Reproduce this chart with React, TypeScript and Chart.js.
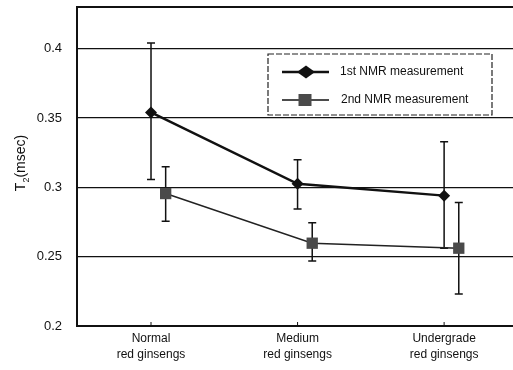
import React, { useEffect, useRef } from "react";
import { Chart, registerables } from "chart.js";

Chart.register(...registerables);

const categories: string[][] = [
  ["Normal", "red ginsengs"],
  ["Medium", "red ginsengs"],
  ["Undergrade", "red ginsengs"],
];
const seriesNames = ["1st NMR measurement", "2nd NMR measurement"];
const s1Mean = [0.354, 0.3025, 0.294];
const s1Low = [0.3056, 0.2844, 0.2561];
const s1High = [0.404, 0.3198, 0.3328];
const s2Mean = [0.2955, 0.2597, 0.2561];
const s2Low = [0.2756, 0.2469, 0.2231];
const s2High = [0.3148, 0.2745, 0.289];
const yTicks = [0.2, 0.25, 0.3, 0.35, 0.4];
const SERIES2_SHIFT = 0.1;

const FONT = "'Liberation Sans', Arial, sans-serif";

const zeroPad = (s: any) => {
  s.paddingLeft = 0;
  s.paddingRight = 0;
  s.paddingTop = 0;
  s.paddingBottom = 0;
};

const errorBars = {
  id: "errorBars",
  beforeDatasetsDraw(chart: any) {
    const ctx = chart.ctx;
    const xs = chart.scales.x;
    const ys = chart.scales.y;
    const sets = [
      { lo: s1Low, hi: s1High, shift: 0 },
      { lo: s2Low, hi: s2High, shift: SERIES2_SHIFT },
    ];
    ctx.save();
    ctx.strokeStyle = "#111";
    ctx.lineWidth = 1.5;
    sets.forEach((s) => {
      s.lo.forEach((lo, i) => {
        const x = xs.getPixelForValue(i + s.shift);
        const y1 = ys.getPixelForValue(lo);
        const y2 = ys.getPixelForValue(s.hi[i]);
        ctx.beginPath();
        ctx.moveTo(x, y1);
        ctx.lineTo(x, y2);
        ctx.moveTo(x - 4, y1);
        ctx.lineTo(x + 4, y1);
        ctx.moveTo(x - 4, y2);
        ctx.lineTo(x + 4, y2);
        ctx.stroke();
      });
    });
    ctx.restore();
  },
};

const frameAndLegend = {
  id: "frameAndLegend",
  afterDraw(chart: any) {
    const ctx = chart.ctx;
    const area = chart.chartArea;
    const xs = chart.scales.x;
    ctx.save();
    ctx.strokeStyle = "#111";
    ctx.lineWidth = 2;
    ctx.beginPath();
    ctx.moveTo(area.left, area.top);
    ctx.lineTo(area.right, area.top);
    ctx.stroke();
    ctx.lineWidth = 1;
    categories.forEach((_, i) => {
      const x = xs.getPixelForValue(i);
      ctx.beginPath();
      ctx.moveTo(x, area.bottom);
      ctx.lineTo(x, area.bottom - 4);
      ctx.stroke();
    });

    const bx = 268, by = 54, bw = 224, bh = 61;
    ctx.fillStyle = "#fff";
    ctx.fillRect(bx, by, bw, bh);
    ctx.setLineDash([6, 2]);
    ctx.lineWidth = 1.2;
    ctx.strokeStyle = "#222";
    ctx.strokeRect(bx, by, bw, bh);
    ctx.setLineDash([]);

    const rows = [72, 100];
    ctx.strokeStyle = "#111";
    ctx.lineWidth = 2.5;
    ctx.beginPath();
    ctx.moveTo(282, rows[0]);
    ctx.lineTo(329, rows[0]);
    ctx.stroke();
    ctx.fillStyle = "#111";
    ctx.beginPath();
    ctx.moveTo(306 - 9, rows[0]);
    ctx.lineTo(306, rows[0] - 6.5);
    ctx.lineTo(306 + 9, rows[0]);
    ctx.lineTo(306, rows[0] + 6.5);
    ctx.closePath();
    ctx.fill();
    ctx.lineWidth = 1.5;
    ctx.beginPath();
    ctx.moveTo(282, rows[1]);
    ctx.lineTo(329, rows[1]);
    ctx.stroke();
    ctx.fillStyle = "#4a4a4a";
    ctx.fillRect(305 - 6.5, rows[1] - 6, 13, 12);

    ctx.fillStyle = "#111";
    ctx.font = `12px ${FONT}`;
    ctx.textBaseline = "middle";
    ctx.textAlign = "left";
    ctx.fillText(seriesNames[0], 340, rows[0]);
    ctx.fillText(seriesNames[1], 341, rows[1]);

    ctx.translate(20, 163);
    ctx.rotate(-Math.PI / 2);
    ctx.font = `14px ${FONT}`;
    const wT = ctx.measureText("T").width;
    ctx.font = `9px ${FONT}`;
    const w2 = ctx.measureText("2").width;
    ctx.font = `14px ${FONT}`;
    const wRest = ctx.measureText("(msec)").width;
    const total = wT + w2 + wRest;
    let x0 = -total / 2;
    ctx.textBaseline = "alphabetic";
    ctx.fillText("T", x0, 5);
    x0 += wT;
    ctx.font = `9px ${FONT}`;
    ctx.fillText("2", x0, 9);
    x0 += w2;
    ctx.font = `14px ${FONT}`;
    ctx.fillText("(msec)", x0, 5);
    ctx.restore();
  },
};

export default function App() {
  const ref = useRef<HTMLCanvasElement | null>(null);
  useEffect(() => {
    if (!ref.current) return;
    const chart = new Chart(ref.current, {
      type: "line",
      data: {
        datasets: [
          {
            label: seriesNames[0],
            data: s1Mean.map((v, i) => ({ x: i, y: v })),
            borderColor: "#111",
            backgroundColor: "#111",
            borderWidth: 2.5,
            pointStyle: "rectRot",
            pointRadius: 6,
            pointBackgroundColor: "#111",
            pointBorderWidth: 0,
          },
          {
            label: seriesNames[1],
            data: s2Mean.map((v, i) => ({ x: i + SERIES2_SHIFT, y: v })),
            borderColor: "#222",
            backgroundColor: "#4a4a4a",
            borderWidth: 1.5,
            pointStyle: "rect",
            pointRadius: 8,
            pointBackgroundColor: "#4a4a4a",
            pointBorderWidth: 0,
          },
        ],
      },
      options: {
        animation: false,
        responsive: false,
        events: [],
        layout: { autoPadding: false, padding: { top: 7, right: 0, left: 0, bottom: 0 } },
        plugins: { legend: { display: false }, tooltip: { enabled: false } },
        scales: {
          x: {
            type: "linear",
            min: -0.505,
            max: 2.47,
            afterBuildTicks: (s: any) => {
              s.ticks = categories.map((_, i) => ({ value: i }));
            },
            afterFit: (s: any) => {
              s.height = 44;
              zeroPad(s);
            },
            grid: { display: false, drawTicks: false },
            border: { display: true, color: "#111", width: 2 },
            ticks: {
              autoSkip: false,
              maxRotation: 0,
              padding: 5,
              color: "#111",
              font: { family: FONT, size: 12, lineHeight: "16px" },
              callback: (v: any) => categories[Math.round(Number(v))] ?? "",
            },
          },
          y: {
            min: 0.2,
            max: 0.43,
            afterBuildTicks: (s: any) => {
              s.ticks = yTicks.map((v) => ({ value: v }));
            },
            afterFit: (s: any) => {
              s.width = 77;
              zeroPad(s);
            },
            grid: { color: "#111", lineWidth: 1.3, drawTicks: false },
            border: { display: true, color: "#111", width: 2 },
            ticks: {
              padding: 15,
              color: "#111",
              font: { family: FONT, size: 13 },
              callback: (v: any) => String(Number(v)),
            },
          },
        },
      },
      plugins: [errorBars, frameAndLegend],
    });
    return () => chart.destroy();
  }, []);
  return (
    <div style={{ position: "absolute", left: 0, top: 0, width: 513, height: 370, background: "#fff" }}>
      <canvas ref={ref} width={513} height={370} style={{ display: "block" }} />
    </div>
  );
}
